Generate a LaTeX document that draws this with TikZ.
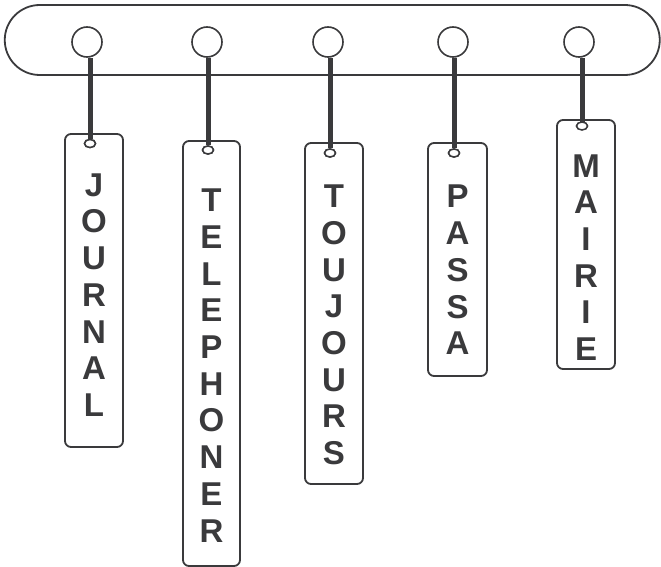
\documentclass[tikz,border=0pt]{standalone}
\usepackage{fontspec}
\setmainfont{Liberation Sans}
\usetikzlibrary{shapes.geometric}
\definecolor{ink}{HTML}{3A3A3C}
\begin{document}
\begin{tikzpicture}[x=1pt,y=-1pt,
 bar/.style={draw=ink, line width=1.8pt, rounded corners=35pt, minimum width=655pt, minimum height=70pt, inner sep=0pt},
 ring/.style={circle, draw=ink, line width=1.6pt, minimum size=30pt, inner sep=0pt, fill=white},
 tagbox/.style={draw=ink, line width=1.8pt, rounded corners=6pt, minimum width=58pt, inner sep=0pt, fill=white},
 hole/.style={ellipse, draw=ink, line width=1.5pt, fill=white, minimum width=11pt, minimum height=8pt, inner sep=0pt},
 stem/.style={draw=ink, line width=5pt},
 word/.style={text=ink, font=\fontsize{33}{36.7}\selectfont\bfseries, align=center, inner sep=0pt}
]
\useasboundingbox (0,0) rectangle (661,567);
\node[bar] (bar) at (332.25,40) {};
\node[ring] (r1) at (87,42) {};
\node[ring] (r2) at (207,42) {};
\node[ring] (r3) at (328,42) {};
\node[ring] (r4) at (453,42) {};
\node[ring] (r5) at (579,42) {};
\node[tagbox, minimum height=313pt] (t1) at (94,290.5) {};
\node[tagbox, minimum width=57pt, minimum height=425pt] (t2) at (211.5,353.5) {};
\node[tagbox, minimum height=341pt] (t3) at (334,313.5) {};
\node[tagbox, minimum width=59pt, minimum height=233pt] (t4) at (457.5,259.5) {};
\node[tagbox, minimum height=249pt] (t5) at (586,244.5) {};
\node[hole] (h1) at (90,143.5) {};
\node[hole] (h2) at (208,150) {};
\node[hole] (h3) at (330,153) {};
\node[hole] (h4) at (454,153) {};
\node[hole, minimum height=7pt] (h5) at (582,126) {};
\foreach \i in {1,...,5} {
  \draw[stem] (r\i.south -| h\i) -- (h\i.north);
}
\foreach \i in {1,...,5} {
  \node[hole] at (h\i) {};
}
\node[word] (w1) at (94,295) {J\\O\\U\\R\\N\\A\\L};
\node[word] (w2) at (211.5,365.5) {T\\E\\L\\E\\P\\H\\O\\N\\E\\R};
\node[word] (w3) at (334,325) {T\\O\\U\\J\\O\\U\\R\\S};
\node[word] (w4) at (457.5,270) {P\\A\\S\\S\\A};
\node[word] (w5) at (586,257.5) {M\\A\\I\\R\\I\\E};
\end{tikzpicture}
\end{document}
